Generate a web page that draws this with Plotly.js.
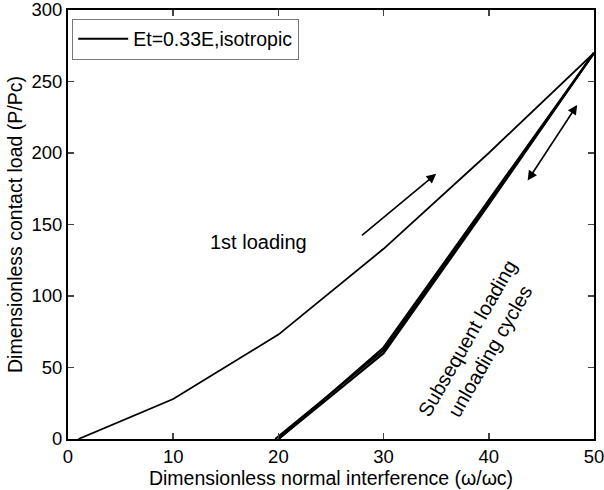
<!DOCTYPE html>
<html>
<head>
<meta charset="utf-8">
<script src="https://cdn.plot.ly/plotly-3.0.1.min.js"></script>
<style>html,body{margin:0;padding:0;background:#fff;}#chart{width:604px;height:490px;}</style>
</head>
<body>
<div id="chart"></div>
<script>
// First loading curve
var loadX = [1, 10, 20, 30, 40, 50];
var loadY = [0, 28, 73, 133, 200, 270];
// Subsequent loading/unloading cycles
var cycleX = [20, 30, 40, 50];
var cycleY1 = [0, 60, 164, 270];
var cycleY2 = [0, 64, 167, 270];
var cycleY3 = [0, 62, 165, 270];
var cycleX3 = [19.7, 30, 40, 50];
var legendName = "Et=0.33E,isotropic";
var xTicks = [0, 10, 20, 30, 40, 50];
var yTicks = [0, 50, 100, 150, 200, 250, 300];

var fam = "Liberation Sans, Arial, sans-serif";
var tickFont = {family: fam, size: 18.5, color: "#000"};
var titleFont = {family: fam, size: 19.5, color: "#000"};
var textFont = {family: fam, size: 20, color: "#000"};

var traces = [
  {x: loadX, y: loadY, mode: "lines", name: legendName, line: {color: "#000", width: 1.8}, showlegend: true},
  {x: cycleX, y: cycleY1, mode: "lines", line: {color: "#000", width: 2.2}, showlegend: false},
  {x: cycleX, y: cycleY2, mode: "lines", line: {color: "#000", width: 2.2}, showlegend: false},
  {x: cycleX3, y: cycleY3, mode: "lines", line: {color: "#000", width: 2.2}, showlegend: false}
];

var layout = {
  width: 604, height: 490,
  margin: {l: 68, r: 10, t: 10, b: 51},
  paper_bgcolor: "#fff", plot_bgcolor: "#fff",
  font: tickFont,
  xaxis: {
    range: [0, 50], tickvals: xTicks, ticks: "inside", ticklen: 6, tickwidth: 1.5,
    showline: true, linewidth: 2, linecolor: "#000", mirror: "ticks",
    showgrid: false, zeroline: false, tickfont: tickFont, ticklabeloverflow: "allow",
    title: {text: "Dimensionless normal interference (\u03c9/\u03c9c)", font: titleFont, standoff: 5}
  },
  yaxis: {
    range: [0, 300], tickvals: yTicks, ticks: "inside", ticklen: 6, tickwidth: 1.5,
    showline: true, linewidth: 2, linecolor: "#000", mirror: "ticks",
    showgrid: false, zeroline: false, tickfont: tickFont, ticklabeloverflow: "allow",
    title: {text: "Dimensionless contact load (P/Pc)", font: titleFont, standoff: 4}
  },
  legend: {
    x: 0.008, y: 0.98, xanchor: "left", yanchor: "top",
    bordercolor: "#777", borderwidth: 1, bgcolor: "#fff",
    font: titleFont, itemwidth: 50
  },
  annotations: [
    {x: 18.1, y: 138, xref: "x", yref: "y", text: "1st loading", showarrow: false, font: textFont},
    {x: 39.0, y: 66, xref: "x", yref: "y", text: "Subsequent loading<br>unloading cycles", showarrow: false, textangle: -60, font: textFont},
    {x: 35.0, y: 185.5, ax: 27.8, ay: 141.5, xref: "x", yref: "y", axref: "x", ayref: "y", text: "", showarrow: true, arrowhead: 2, arrowsize: 1.2, arrowwidth: 1.6, arrowcolor: "#000"},
    {x: 48.4, y: 233.6, ax: 43.6, ay: 179.7, xref: "x", yref: "y", axref: "x", ayref: "y", text: "", showarrow: true, arrowhead: 2, startarrowhead: 2, arrowside: "end+start", arrowsize: 1.2, startarrowsize: 1.2, arrowwidth: 1.6, arrowcolor: "#000"}
  ]
};

Plotly.newPlot("chart", traces, layout, {displayModeBar: false, staticPlot: true});
</script>
</body>
</html>
